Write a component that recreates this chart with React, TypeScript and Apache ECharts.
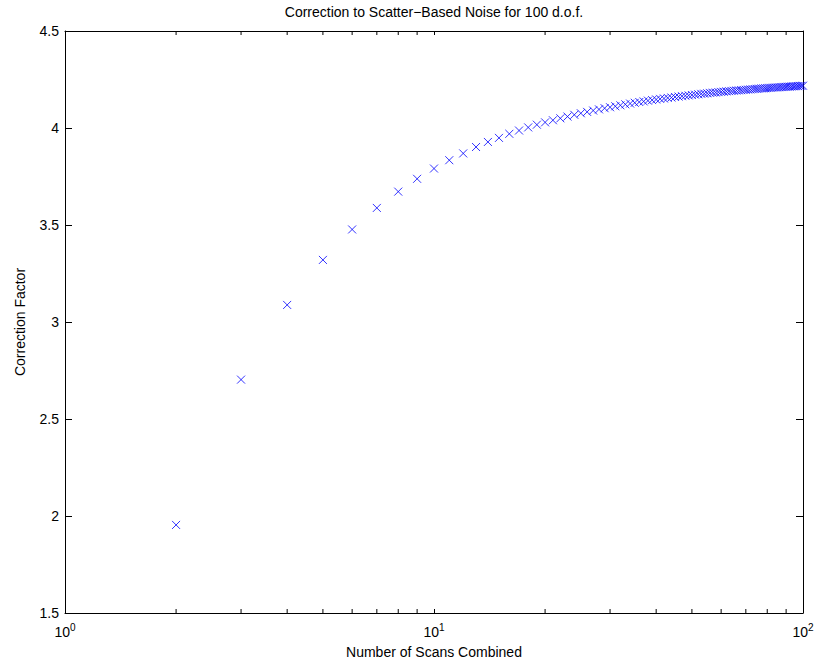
import React, { useEffect, useRef } from "react";
import * as echarts from "echarts";

// Number of scans combined (x) and the matching correction factor (y)
const scans = [
  2, 3, 4, 5, 6, 7, 8, 9, 10, 11, 12, 13, 14, 15, 16, 17, 18, 19, 20,
  21, 22, 23, 24, 25, 26, 27, 28, 29, 30, 31, 32, 33, 34, 35, 36, 37, 38, 39, 40,
  41, 42, 43, 44, 45, 46, 47, 48, 49, 50, 51, 52, 53, 54, 55, 56, 57, 58, 59, 60,
  61, 62, 63, 64, 65, 66, 67, 68, 69, 70, 71, 72, 73, 74, 75, 76, 77, 78, 79, 80,
  81, 82, 83, 84, 85, 86, 87, 88, 89, 90, 91, 92, 93, 94, 95, 96, 97, 98, 99, 100,
];

const correction = [
  1.954, 2.703, 3.088, 3.32, 3.477, 3.588, 3.672, 3.738, 3.791, 3.834, 3.869,
  3.902, 3.928, 3.949, 3.97, 3.987, 4.003, 4.017, 4.029,
  4.04, 4.05, 4.059, 4.068, 4.076, 4.083, 4.09, 4.096, 4.102, 4.107,
  4.112, 4.117, 4.122, 4.126, 4.13, 4.134, 4.137, 4.141, 4.144, 4.147,
  4.15, 4.152, 4.155, 4.157, 4.16, 4.162, 4.164, 4.166, 4.168, 4.17,
  4.172, 4.174, 4.176, 4.177, 4.179, 4.181, 4.182, 4.183, 4.185, 4.186,
  4.187, 4.189, 4.19, 4.191, 4.192, 4.193, 4.194, 4.195, 4.196, 4.197,
  4.198, 4.199, 4.2, 4.201, 4.202, 4.203, 4.204, 4.204, 4.205, 4.206,
  4.207, 4.207, 4.208, 4.209, 4.209, 4.21, 4.211, 4.211, 4.212, 4.212,
  4.213, 4.213, 4.214, 4.215, 4.215, 4.216, 4.216, 4.217, 4.217, 4.218,
];

// Axis ranges and the log-axis minor tick positions
const xRange = [1, 100];
const yRange = [1.5, 4.5];
const yStep = 0.5;
const xMinorTicks = [2, 3, 4, 5, 6, 7, 8, 9, 20, 30, 40, 50, 60, 70, 80, 90];

const FONT = "'Liberation Sans', Arial, Helvetica, sans-serif";
const BLUE = "#0000ff";

export default function App() {
  const ref = useRef<HTMLDivElement>(null);

  useEffect(() => {
    document.body.style.margin = "0";
    if (!ref.current) return;
    const chart = echarts.init(ref.current, null, { renderer: "svg" });

    const gridLeft = 65;
    const gridRight = 14;
    const plotCenterX = gridLeft + (817 - gridLeft - gridRight) / 2;

    const logLabel = (v: number) => {
      const p = Math.round(Math.log10(v));
      return "10{s|" + p + "}";
    };

    const baseX = {
      type: "log" as const,
      logBase: 10,
      min: xRange[0],
      max: xRange[1],
      splitLine: { show: false },
      axisLine: { show: true, onZero: false, lineStyle: { color: "#000", width: 1 } },
      axisTick: { show: true, inside: true, length: 4, lineStyle: { color: "#000" } },
    };

    const baseY = {
      type: "value" as const,
      min: yRange[0],
      max: yRange[1],
      interval: yStep,
      splitLine: { show: false },
      axisLine: { show: true, onZero: false, lineStyle: { color: "#000", width: 1 } },
      axisTick: { show: true, inside: true, length: 7, lineStyle: { color: "#000" } },
    };

    chart.setOption({
      animation: false,
      backgroundColor: "#fff",
      textStyle: { fontFamily: FONT },
      grid: {
        left: gridLeft,
        right: gridRight,
        top: 31,
        bottom: 51,
        containLabel: false,
        outerBoundsMode: "none",
      },
      graphic: [
        {
          type: "text",
          x: plotCenterX,
          y: 12,
          style: {
            text: "Correction to Scatter\u2212Based Noise for 100 d.o.f.",
            textAlign: "center",
            textVerticalAlign: "middle",
            fontFamily: FONT,
            fontSize: 14,
            fill: "#000",
          },
        },
      ],
      xAxis: [
        {
          ...baseX,
          position: "bottom",
          name: "Number of Scans Combined",
          nameLocation: "middle",
          nameGap: 32,
          nameTextStyle: { color: "#000", fontSize: 14, fontFamily: FONT },
          axisLabel: {
            color: "#000",
            fontSize: 14,
            fontFamily: FONT,
            margin: 9,
            formatter: logLabel,
            rich: {
              s: { fontSize: 10, verticalAlign: "top", padding: [0, 0, 9, 0], fontFamily: FONT, color: "#000" },
            },
          },
        },
        {
          ...baseX,
          position: "top",
          axisLabel: { show: false },
        },
      ],
      yAxis: [
        {
          ...baseY,
          position: "left",
          name: "Correction Factor",
          nameLocation: "middle",
          nameGap: 38,
          nameTextStyle: { color: "#000", fontSize: 14, fontFamily: FONT },
          axisLabel: { color: "#000", fontSize: 14, fontFamily: FONT, margin: 6 },
        },
        {
          ...baseY,
          position: "right",
          axisLabel: { show: false },
        },
      ],
      series: [
        {
          type: "scatter",
          xAxisIndex: 0,
          yAxisIndex: 0,
          symbol: "path://M0,0L10,10M10,0L0,10",
          symbolSize: 8,
          itemStyle: { color: "transparent", borderColor: BLUE, borderWidth: 1 },
          data: scans.map((n, i) => [n, correction[i]]),
        },
        {
          // minor ticks at 2..9 and 20..90 on both the bottom and top edges
          type: "custom",
          xAxisIndex: 0,
          yAxisIndex: 0,
          silent: true,
          clip: false,
          data: xMinorTicks.map((v) => [v, yRange[0]]),
          encode: { x: 0, y: 1 },
          renderItem: (_params: any, api: any) => {
            const v = api.value(0);
            const b = api.coord([v, yRange[0]]);
            const t = api.coord([v, yRange[1]]);
            const st = { stroke: "#000", lineWidth: 1 };
            return {
              type: "group",
              children: [
                { type: "line", shape: { x1: b[0], y1: b[1], x2: b[0], y2: b[1] - 4 }, style: st },
                { type: "line", shape: { x1: t[0], y1: t[1], x2: t[0], y2: t[1] + 4 }, style: st },
              ],
            };
          },
        },
      ],
    });

    return () => chart.dispose();
  }, []);

  return <div ref={ref} style={{ width: 817, height: 664 }} />;
}
